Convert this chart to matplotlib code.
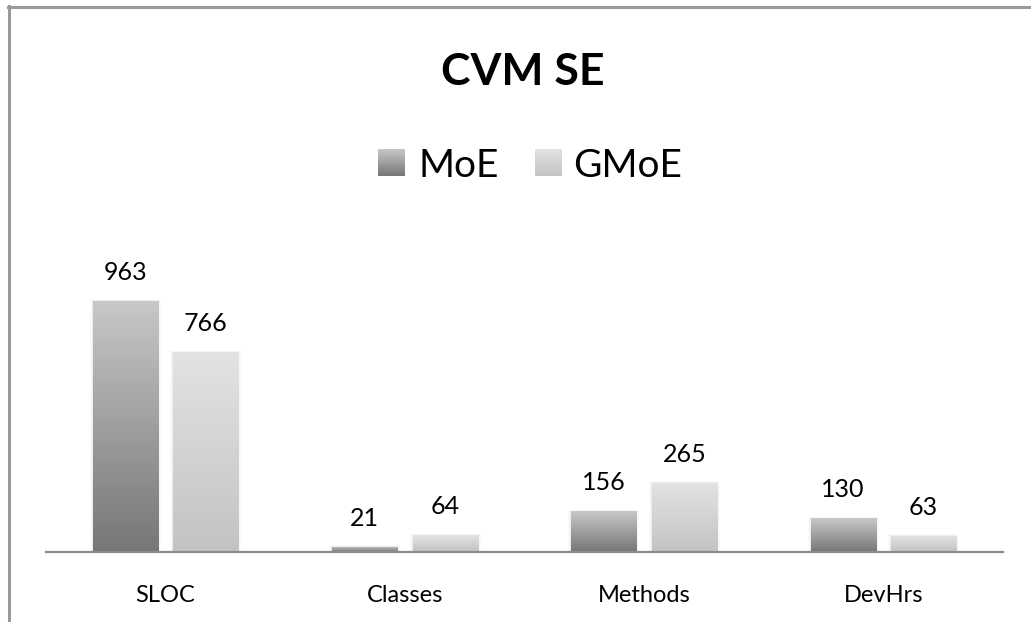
import numpy as np
import matplotlib
matplotlib.use("Agg")
import matplotlib.pyplot as plt
from matplotlib.lines import Line2D

plt.rcParams['font.family'] = ['Lato', 'DejaVu Sans']

# chart data
categories = ['SLOC', 'Classes', 'Methods', 'DevHrs']
series_names = ['MoE', 'GMoE']
moe = [963, 21, 156, 130]
gmoe = [766, 64, 265, 63]

# vertical gradient (top colour, bottom colour) for each series
gradients = {
    'MoE': ('#c8c8c8', '#767676'),
    'GMoE': ('#e3e3e3', '#c3c3c3'),
}

W, H = 1031, 622
fig = plt.figure(figsize=(W / 100, H / 100), dpi=100)


def px(x, y):
    # pixel position (from top-left) to figure fraction
    return x / W, 1 - y / H


def gradient_image(top, bottom, n=256):
    c1 = np.array(matplotlib.colors.to_rgb(top))
    c2 = np.array(matplotlib.colors.to_rgb(bottom))
    t = np.linspace(0, 1, n)[:, None]
    return (c1 + (c2 - c1) * t)[:, None, :]


# plot area
ymax = 1200
bar_px = 251 / 963          # pixels per unit
ax_h = ymax * bar_px
left, base = 46, 552
ax = fig.add_axes([left / W, 1 - base / H, (1003 - left) / W, ax_h / H])
ax.set_xlim(-0.5, 3.5)
ax.set_ylim(0, ymax)

x = np.arange(len(categories))
width = 0.272
offset = 0.168
unit_px = 957 / 4           # pixels per category

for name, vals, dx in [('MoE', moe, -offset), ('GMoE', gmoe, offset)]:
    bars = ax.bar(x + dx, vals, width, facecolor='none', edgecolor='none', zorder=3)
    top, bottom = gradients[name]
    for b, v in zip(bars, vals):
        bx, by = b.get_x(), b.get_y()
        bw, bh = b.get_width(), b.get_height()
        # faint shadow around the bar
        for k, a in [(3, 0.015), (2, 0.02), (1, 0.03)]:
            ex = k / unit_px
            ax.add_patch(plt.Rectangle((bx - ex, 0), bw + 2 * ex, bh + k * 0.5 / bar_px,
                                       facecolor='black', alpha=a, lw=0, zorder=2))
        im = ax.imshow(gradient_image(top, bottom), extent=(bx, bx + bw, by, by + bh),
                       aspect='auto', zorder=3, interpolation='bilinear')
        im.set_clip_path(b)
        ax.annotate(str(v), (b.get_x() + bw / 2, bh), xytext=(0, 21),
                    textcoords='offset pixels', ha='center', va='baseline',
                    fontsize=18, color='black')

ax.set_xticks(x)
ax.set_xticklabels(categories, fontsize=17)
ax.tick_params(axis='x', length=0, pad=24)
ax.set_yticks([])
for s in ['left', 'right', 'top']:
    ax.spines[s].set_visible(False)
ax.spines['bottom'].set_color('#8c8c8c')
ax.spines['bottom'].set_linewidth(1.6)
ax.spines['bottom'].set_zorder(4)
ax.set_facecolor('none')

# title
fig.text(*px(523, 85), 'CVM SE', ha='center', va='baseline',
         fontsize=32, fontweight='bold')

# legend with gradient swatches
legend_items = [('MoE', 378, 418), ('GMoE', 535, 573)]
for name, box_x, text_x in legend_items:
    bl = px(box_x, 176)
    sw = fig.add_axes([bl[0], bl[1], 27 / W, 27 / H])
    sw.imshow(gradient_image(*gradients[name]), aspect='auto', interpolation='bilinear')
    sw.axis('off')
    fig.text(*px(text_x, 177), name, ha='left', va='baseline', fontsize=28)

# chart frame (top and left edges)
fig.add_artist(Line2D([8 / W, 1], [1 - 6.5 / H] * 2, transform=fig.transFigure,
                      color='#9a9a9a', lw=2.2))
fig.add_artist(Line2D([8.5 / W] * 2, [0, 1 - 5.5 / H], transform=fig.transFigure,
                      color='#9a9a9a', lw=2.2))

fig.savefig('out.png', dpi=100)
